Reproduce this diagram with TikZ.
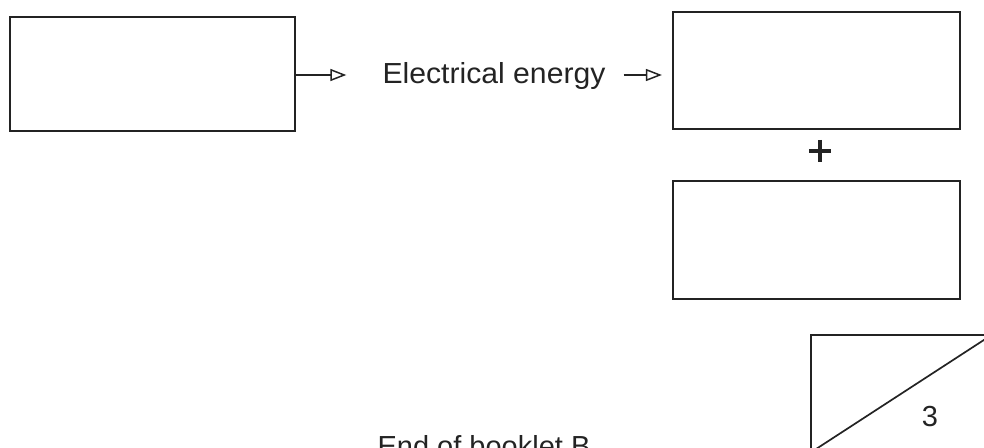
\documentclass[tikz,border=0pt]{standalone}
\usepackage{fontspec}
\setmainfont{Liberation Sans}
\usetikzlibrary{arrows.meta}
\definecolor{ink}{RGB}{35,35,35}
\begin{document}
\begin{tikzpicture}[x=1pt,y=-1pt,
  answerbox/.style={draw=ink,line width=2.2pt,minimum width=#1,inner sep=0pt},
  flowarrow/.style={draw=ink,line width=1.5pt,-{Triangle[open,length=16pt,width=12pt,line width=1.5pt]}},
  label/.style={text=ink,inner sep=0pt,font=\fontsize{29}{34}\selectfont}]
\useasboundingbox (0,0) rectangle (984,447);
\clip (0,0) rectangle (984,447);
\coordinate (ay) at (0,75);
\node[answerbox=285pt,minimum height=114pt] (A) at (152.5,74) {};
\node[label,anchor=base] (E) at (494,83) {\scalebox{1.04}[1]{Electrical energy}};
\node[answerbox=287pt,minimum height=117pt] (B) at (816.5,70.5) {};
\node[answerbox=287pt,minimum height=118pt] (C) at (816.5,240) {};
\node[inner sep=0pt,minimum size=22pt] (P) at (820,151) {};
\draw[ink,line width=3.4pt] (P.west) -- (P.east) (P.north) -- (P.south);
\draw[flowarrow] (A.east |- ay) -- ([xshift=-36pt]E.west |- ay);
\draw[flowarrow] ([xshift=18pt]E.east |- ay) -- ([xshift=-10pt]B.west |- ay);
\node[answerbox=181pt,minimum height=117pt,line width=1.7pt] (S) at (901.5,393.5) {};
\draw[ink,line width=1.7pt] (S.south west) -- (S.north east);
\node[label] (N) at (930,417) {3};
\node[label,anchor=base] (F) at (484,456) {End of booklet B};
\end{tikzpicture}
\end{document}
